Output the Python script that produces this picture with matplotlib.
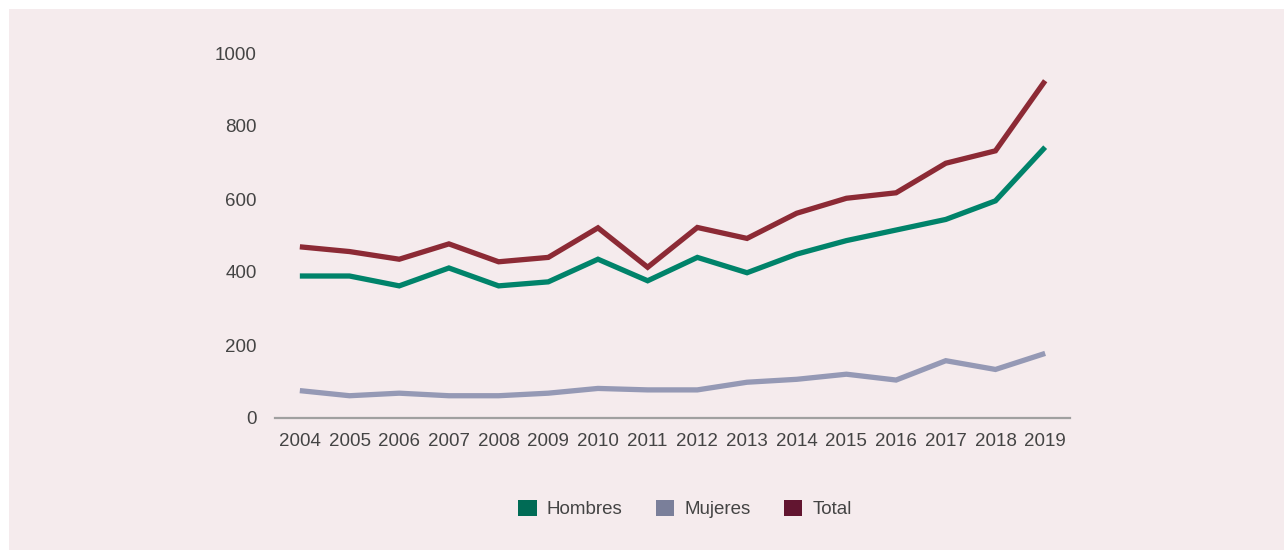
import matplotlib
matplotlib.use("Agg")
import matplotlib.pyplot as plt
from matplotlib.patches import Rectangle, Patch

years = list(range(2004, 2020))
hombres = [389, 389, 362, 411, 362, 373, 435, 376, 440, 398, 449, 486, 515, 544, 595, 742]
mujeres = [75, 61, 68, 61, 61, 68, 81, 77, 77, 98, 106, 120, 104, 157, 133, 177]
total = [469, 456, 435, 477, 428, 440, 521, 413, 522, 492, 561, 602, 617, 698, 732, 924]
series_names = ["Hombres", "Mujeres", "Total"]
yticks = [0, 200, 400, 600, 800, 1000]

line_colors = ["#00836a", "#9599b5", "#8c2a35"]
legend_colors = ["#006b55", "#7a7f9a", "#621530"]
bg = "#f5ebed"
txt = "#444444"

plt.rcParams['font.family'] = ['Liberation Sans', 'DejaVu Sans']

fig = plt.figure(figsize=(12.84, 5.5), dpi=100)
fig.patch.set_facecolor("white")
fig.patches.append(Rectangle((9/1284, 0), 1275/1284, 541/550,
                             transform=fig.transFigure, facecolor=bg,
                             edgecolor="none", zorder=-10))

ax = fig.add_axes([275/1284, 1-418/550, (1070-275)/1284, (418-53)/550])
ax.set_facecolor("none")
for vals, c in zip([hombres, mujeres, total], line_colors):
    ax.plot(years, vals, color=c, lw=3.8, solid_joinstyle="miter", solid_capstyle="butt")

ax.set_xlim(2003.5, 2019.5)
ax.set_ylim(0, 1000)
ax.set_xticks(years)
ax.set_xticklabels([str(y) for y in years])
ax.set_yticks(yticks)
ax.tick_params(axis="both", length=0, labelsize=13.5, labelcolor=txt)
ax.tick_params(axis="y", pad=13)
ax.tick_params(axis="x", pad=11)
for s in ["top", "right", "left"]:
    ax.spines[s].set_visible(False)
ax.spines["bottom"].set_color("#a0a0a0")
ax.spines["bottom"].set_linewidth(1.6)
ax.spines["bottom"].set_zorder(0)

handles = [Patch(facecolor=c, edgecolor="none") for c in legend_colors]
leg = fig.legend(handles, series_names, loc="center", ncol=3,
                 bbox_to_anchor=(685/1284, 1-509/550), frameon=False,
                 fontsize=13.5, handlelength=1.0, handleheight=1.0,
                 handletextpad=0.55, columnspacing=1.75)
for t in leg.get_texts():
    t.set_color(txt)

fig.savefig("out.png", dpi=100, facecolor=fig.get_facecolor())
